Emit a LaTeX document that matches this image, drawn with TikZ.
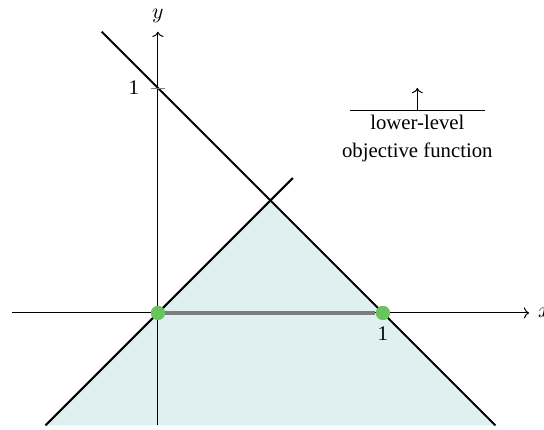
\documentclass[tikz,border=0pt]{standalone}
\usepackage{fontspec}
\setmainfont{Liberation Serif}
\usepackage{tikz}
\usetikzlibrary{arrows.meta, positioning}

\definecolor{regionfill}{RGB}{224,240,240}
\definecolor{dotgreen}{RGB}{104,196,92}
\definecolor{segmentgray}{RGB}{125,125,125}

\begin{document}
\begin{tikzpicture}[
    x=4cm,
    y=4cm,
    >=To,
    font=\fontsize{10.5}{14}\selectfont,
    axis/.style={->, line width=0.5pt},
    bound/.style={line width=1pt},
    feasible/.style={fill=regionfill},
    optset/.style={draw=segmentgray, line width=2pt},
    optpoint/.style={
        circle,
        fill=dotgreen,
        inner sep=0pt,
        minimum size=0.25cm
    },
    ticklabel/.style={inner sep=2pt}
]

\useasboundingbox (-0.702,-0.516) rectangle (1.716,1.391);

% feasible region of the lower level
\fill[feasible] (-0.5,-0.5) -- (0.5,0.5) -- (1.5,-0.5) -- cycle;

% constraint lines
\coordinate (diagA) at (-0.5,-0.5);
\coordinate (diagB) at (0.6,0.6);
\coordinate (antiA) at (-0.25,1.25);
\coordinate (antiB) at (1.5,-0.5);
\draw[bound] (diagA) -- (diagB);
\draw[bound] (antiA) -- (antiB);

% axes
\coordinate (xstart) at (-0.65,0);
\coordinate (xend) at (1.65,0);
\coordinate (ystart) at (0,-0.5);
\coordinate (yend) at (0,1.25);
\draw[axis] (xstart) -- (xend);
\draw[axis] (ystart) -- (yend);
\node[right=1pt of xend] (xlabel) {$x$};
\node[above=1pt of yend] (ylabel) {$y$};

% ticks
\coordinate (ytickL) at (-0.03,1);
\coordinate (ytickR) at (0.03,1);
\draw[segmentgray, line width=0.4pt] (ytickL) -- (ytickR);
\node[ticklabel, left=4pt of ytickL] (yone) {1};

% optimal set
\node[optpoint] (origin) at (0,0) {};
\node[optpoint] (xone) at (1,0) {};
\draw[optset] (origin) -- (xone);
\node[optpoint] at (origin) {};
\node[optpoint] at (xone) {};
\node[ticklabel, below=1pt of xone] (xonelabel) {1};

% direction of the lower-level objective
\coordinate (levelL) at (0.853,0.899);
\coordinate (levelR) at (1.453,0.899);
\coordinate (levelM) at (1.153,0.899);
\coordinate (levelTip) at (1.153,1.0);
\draw[line width=0.5pt] (levelL) -- (levelR);
\draw[axis] (levelM) -- (levelTip);
\node[align=center, below=1pt of levelM, inner sep=1pt] (objective) {lower-level\\objective function};

\end{tikzpicture}
\end{document}
